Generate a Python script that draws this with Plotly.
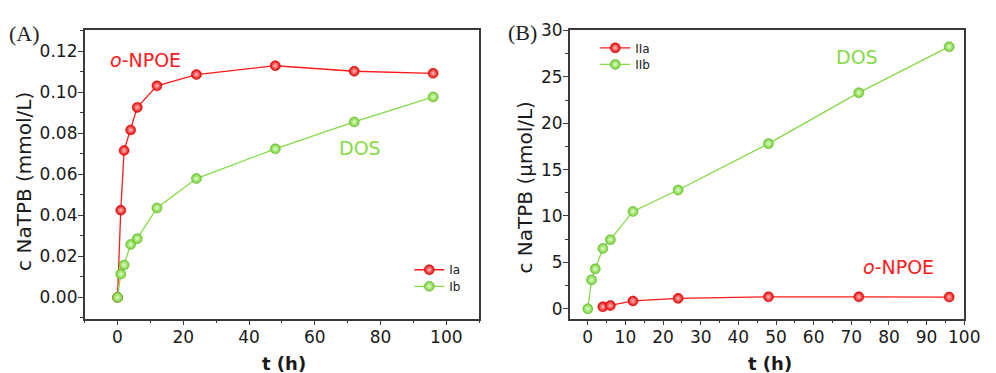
import plotly.graph_objects as go

# ---- data ----
t_A = [0, 1, 2, 4, 6, 12, 24, 48, 72, 96]
Ia = [0.0, 0.0425, 0.0716, 0.0816, 0.0926, 0.1031, 0.1086, 0.1129, 0.1102, 0.1092]
Ib = [0.0, 0.0114, 0.0158, 0.0258, 0.0286, 0.0436, 0.0579, 0.0724, 0.0855, 0.0977]

t_IIa = [4, 6, 12, 24, 48, 72, 96]
IIa = [0.21, 0.35, 0.84, 1.12, 1.29, 1.29, 1.26]
t_IIb = [0, 1, 2, 4, 6, 12, 24, 48, 72, 96]
IIb = [0.0, 3.11, 4.30, 6.50, 7.45, 10.49, 12.80, 17.80, 23.29, 28.25]

xticks_A = [0, 20, 40, 60, 80, 100]
yticks_A = [0.00, 0.02, 0.04, 0.06, 0.08, 0.10, 0.12]
xticks_B = [0, 10, 20, 30, 40, 50, 60, 70, 80, 90, 100]
yticks_B = [0, 5, 10, 15, 20, 25, 30]

RED = "#ff1a1a"
RED_M = "#f00000"
GREEN = "#84dc44"
GREEN_M = "#72d030"
FONT = "DejaVu Sans, Liberation Sans, Arial, sans-serif"
SERIF = "Liberation Serif, Times New Roman, serif"
AX = "#3a3a3a"
TXT = "#1a1a1a"

W, H = 996, 373
def px(x):
    return x / W
def py(y):
    return 1 - y / H

fig = go.Figure()

def marker(c, edge, hi):
    return dict(size=10, color=c, line=dict(color=edge, width=0.5),
                gradient=dict(type="radial", color=hi))

red_m = marker(RED_M, "#c00000", "#ffc0c0")
green_m = marker(GREEN_M, "#58a828", "#e0ffc8")

fig.add_trace(go.Scatter(x=t_A, y=Ia, name="Ia", mode="lines+markers",
                         line=dict(color=RED, width=1.3), marker=red_m,
                         xaxis="x", yaxis="y", legend="legend"))
fig.add_trace(go.Scatter(x=t_A, y=Ib, name="Ib", mode="lines+markers",
                         line=dict(color=GREEN, width=1.3), marker=green_m,
                         xaxis="x", yaxis="y", legend="legend2"))
fig.add_trace(go.Scatter(x=t_IIa, y=IIa, name="IIa", mode="lines+markers",
                         line=dict(color=RED, width=1.3), marker=red_m,
                         xaxis="x2", yaxis="y2", legend="legend3"))
fig.add_trace(go.Scatter(x=t_IIb, y=IIb, name="IIb", mode="lines+markers",
                         line=dict(color=GREEN, width=1.3), marker=green_m,
                         xaxis="x2", yaxis="y2", legend="legend4"))

common = dict(showline=True, linecolor=AX, linewidth=1.5, mirror=True,
              ticks="outside", ticklen=5, tickwidth=1.2, tickcolor=AX,
              showgrid=False, zeroline=False, ticklabeloverflow="allow",
              tickfont=dict(family=FONT, size=17, color=TXT))

def leg(x, ytop):
    return dict(x=px(x), y=py(ytop), xanchor="left", yanchor="top",
                bgcolor="rgba(0,0,0,0)", font=dict(family=FONT, size=12, color=TXT),
                itemwidth=30)

fig.update_layout(
    width=W, height=H, margin=dict(l=0, r=0, t=0, b=0),
    paper_bgcolor="white", plot_bgcolor="white",
    font=dict(family=FONT),
    xaxis=dict(domain=[px(86), px(487)], range=[-10, 110], tickvals=xticks_A,
               minor=dict(dtick=10, ticklen=3, tickcolor=AX, ticks="outside"),
               ticklabelstandoff=-3, anchor="y", **common),
    yaxis=dict(domain=[py(317), py(21)], range=[-0.0103, 0.1301], tickvals=yticks_A,
               tickformat=".2f", ticklabelstandoff=-3,
               minor=dict(dtick=0.01, ticklen=3, tickcolor=AX, ticks="outside"),
               anchor="x", **common),
    xaxis2=dict(domain=[px(579), px(980)], range=[-4.8, 100], tickvals=xticks_B,
                minor=dict(dtick=5, ticklen=3, tickcolor=AX, ticks="outside"),
                ticklabelstandoff=-3, anchor="y2", **common),
    yaxis2=dict(domain=[py(317), py(21)], range=[-1.05, 30], tickvals=yticks_B,
                ticklabelstandoff=-3,
                minor=dict(dtick=2.5, ticklen=3, tickcolor=AX, ticks="outside"),
                anchor="x2", **common),
    legend=leg(416, 252),
    legend2=leg(416, 269),
    legend3=leg(605, 24),
    legend4=leg(605, 41),
    showlegend=True,
)

ann = [
    # panel labels
    dict(x=px(25), y=py(24), text="(A)", font=dict(family=SERIF, size=22, color="#222")),
    dict(x=px(531), y=py(23), text="(B)", font=dict(family=SERIF, size=22, color="#222")),
    # axis titles
    dict(x=px(25), y=py(176), text="c NaTPB (mmol/L)", textangle=-90,
         font=dict(family=FONT, size=20, color=TXT)),
    dict(x=px(534), y=py(182), text="c NaTPB (\u03bcmol/L)", textangle=-90,
         font=dict(family=FONT, size=20, color=TXT)),
    dict(x=px(289), y=py(363), text="<b>t (h)</b>",
         font=dict(family=FONT, size=18, color=TXT)),
    dict(x=px(783), y=py(363), text="<b>t (h)</b>",
         font=dict(family=FONT, size=18, color=TXT)),
    # series labels
    dict(x=px(147.5), y=py(51), text="<i>o</i>-NPOE", font=dict(family=FONT, size=19, color=RED)),
    dict(x=px(366), y=py(142), text="DOS", font=dict(family=FONT, size=19, color=GREEN)),
    dict(x=px(871), y=py(48.5), text="DOS", font=dict(family=FONT, size=19, color=GREEN)),
    dict(x=px(913), y=py(264), text="<i>o</i>-NPOE", font=dict(family=FONT, size=19, color=RED)),
]
for a in ann:
    a.update(xref="paper", yref="paper", showarrow=False, xanchor="center", yanchor="middle")
fig.update_layout(annotations=ann)

fig.write_html("out.html")
